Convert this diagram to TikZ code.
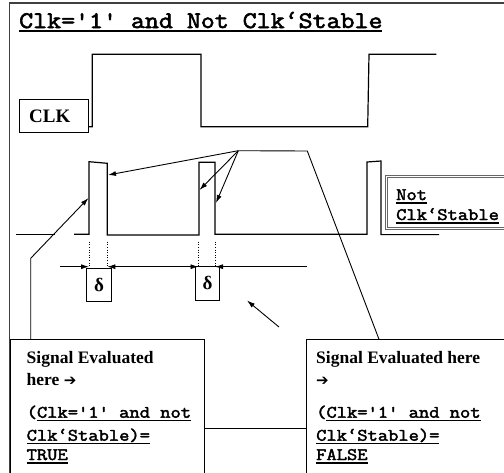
\documentclass[tikz,border=0pt]{standalone}
\usepackage{fontspec}
\setmainfont{Liberation Serif}
\setmonofont{Latin Modern Mono}[FakeStretch=1.14, FakeBold=2.5]
\newfontfamily\arrowfont{DejaVu Sans}
\usetikzlibrary{arrows.meta}
\newsavebox\ulbox
\newcommand\myul[1]{\sbox\ulbox{#1}\rlap{\rule[-3.7pt]{\wd\ulbox}{1.7pt}}\usebox\ulbox}
\newcommand\titleul[1]{\sbox\ulbox{#1}\rlap{\rule[-4.3pt]{\wd\ulbox}{2.2pt}}\usebox\ulbox}
\tikzset{
  wave/.style={line width=1.2pt, black, line join=miter},
  conn/.style={line width=0.9pt, black},
  arr/.style={conn, -{Latex[length=8pt,width=5pt]}},
  boxline/.style={line width=0.9pt, black},
  dim/.style={line width=0.6pt, black, dotted},
  stxt/.style={inner sep=0pt, anchor=base west, font=\bfseries\fontsize{17.5}{20}\selectfont},
  mtxt/.style={inner sep=0pt, anchor=base west, font=\ttfamily\fontsize{17.5}{20}\selectfont},
}
\begin{document}
\begin{tikzpicture}[x=1pt,y=-1pt]
\useasboundingbox (0,0) rectangle (504,472);
\clip (0,0) rectangle (504,472);
% frame
\draw[line width=1.5pt, black!75] (9.5,490) -- (9.5,3) -- (520,3);
% title
\node[mtxt, font=\ttfamily\fontsize{23.8}{26}\selectfont] (title) at (19,28) {\titleul{Clk='1' and Not Clk‘Stable}};
% CLK box
\node[boxline, draw, inner sep=0pt, minimum width=69pt, minimum height=33pt, anchor=north west] (clkbox) at (19,99) {};
\node[stxt, font=\bfseries\fontsize{19}{20}\selectfont] (clklbl) at (29,122.7) {CLK};
% CLK waveform
\draw[wave] (clkbox.east |- 0,126.7) -- (92.3,126.7) -- (92.3,54.3) -- (201,54.3) -- (201,126.7)
  -- (367.7,126.7) -- (369,54.3) -- (436.3,54.3);
% pulse waveform
\draw[wave] (16,234.3) -- (55,234.3);
\draw[wave] (74,234.3) -- (89,234.3) -- (89,161.7) -- (107.3,163.3) -- (107.3,235) -- (199,235)
  -- (199,162.3) -- (215,162.3) -- (215,234.3) -- (367,234.3) -- (367,162) -- (381,161)
  -- (381,234.6) -- (439,234.6);
% Not Clk'Stable box
\draw[line width=0.6pt, black!60] (385.3,175.3) rectangle (520,229.3);
\draw[line width=0.6pt, black!60] (387.3,177.3) rectangle (520,227.3);
\node[mtxt] (not1) at (396,200) {\myul{Not}};
\node[mtxt] (not2) at (396,220) {\myul{Clk‘Stable}};
% dotted guide lines
\foreach \xx/\nm in {89/g1,107.3/g2,198.5/g3,215/g4}{
  \coordinate (\nm t) at (\xx,241.7);
  \coordinate (\nm b) at (\xx,266.7);
  \draw[dim] (\nm t) -- (\nm b);
}
% delta boxes
\node[boxline, draw, inner sep=0pt, minimum width=25pt, minimum height=33pt, anchor=north west] (d1) at (86,268) {};
\node[boxline, draw, inner sep=0pt, minimum width=24pt, minimum height=34pt, anchor=north west] (d2) at (195,266) {};
\node[inner sep=0pt, font=\bfseries\fontsize{19}{20}\selectfont] at (d1.center) {δ};
\node[inner sep=0pt, font=\bfseries\fontsize{19}{20}\selectfont] at (d2.center) {δ};
% dimension arrows
\coordinate (dl) at (60,266.7);
\coordinate (dm) at (131,266.7);
\coordinate (dr) at (307,266.7);
\draw[arr] (dl) -- (g1b);
\draw[arr] (dm) -- (g2b);
\draw[arr] (dm) -- (g3b);
\draw[arr] (dr) -- (g4b);
% bottom boxes
\node[boxline, draw, inner sep=0pt, minimum width=194.8pt, minimum height=150pt, anchor=north west] (lbox) at (9.5,339.3) {};
\node[boxline, draw, inner sep=0pt, minimum width=220pt, minimum height=150pt, anchor=north west] (rbox) at (305.7,339.3) {};
\draw[conn] (lbox.east |- 0,428.3) -- (rbox.west |- 0,428.3);
% left box text
\node[stxt] (l1) at (26.5,363) {Signal Evaluated};
\node[stxt] (l2) at (26.5,385) {here {\arrowfont\bfseries\fontsize{15}{16}\selectfont ➔}};
\node[mtxt] (l3) at (26.5,417.7) {(\myul{Clk='1' and not}};
\node[mtxt] (l4) at (26.5,440.7) {\myul{Clk‘Stable)=}};
\node[mtxt] (l5) at (26.5,460) {\myul{TRUE}};
% right box text
\node[stxt] (r1) at (316,363) {Signal Evaluated here};
\node[stxt] (r2) at (316,385) {{\arrowfont\bfseries\fontsize{15}{16}\selectfont ➔}};
\node[mtxt] (r3) at (316,417.7) {(\myul{Clk='1' and not}};
\node[mtxt] (r4) at (316,440.7) {\myul{Clk‘Stable)=}};
\node[mtxt] (r5) at (316,460) {\myul{FALSE}};
% pointer from left box
\coordinate (lb1) at (lbox.north west -| 30.7,0);
\coordinate (lb2) at (30.7,258.3);
\coordinate (lbt) at (88.5,198);
\draw[arr] (lb1) -- (lb2) -- (lbt);
% hub arrows
\coordinate (hub) at (238.3,150.7);
\coordinate (hub2) at (307.3,151);
\coordinate (rb1) at (379,339.3);
\draw[conn] (hub) -- (hub2) -- (rb1);
\coordinate (p1) at (108,175);
\coordinate (p2) at (199.5,190);
\coordinate (p3) at (216,203);
\draw[arr] (hub) -- (p1);
\draw[arr] (hub) -- (p2);
\draw[arr] (hub) -- (p3);
% lone arrow
\coordinate (la1) at (279,327);
\coordinate (la2) at (247,300.5);
\draw[arr] (la1) -- (la2);
\end{tikzpicture}
\end{document}
